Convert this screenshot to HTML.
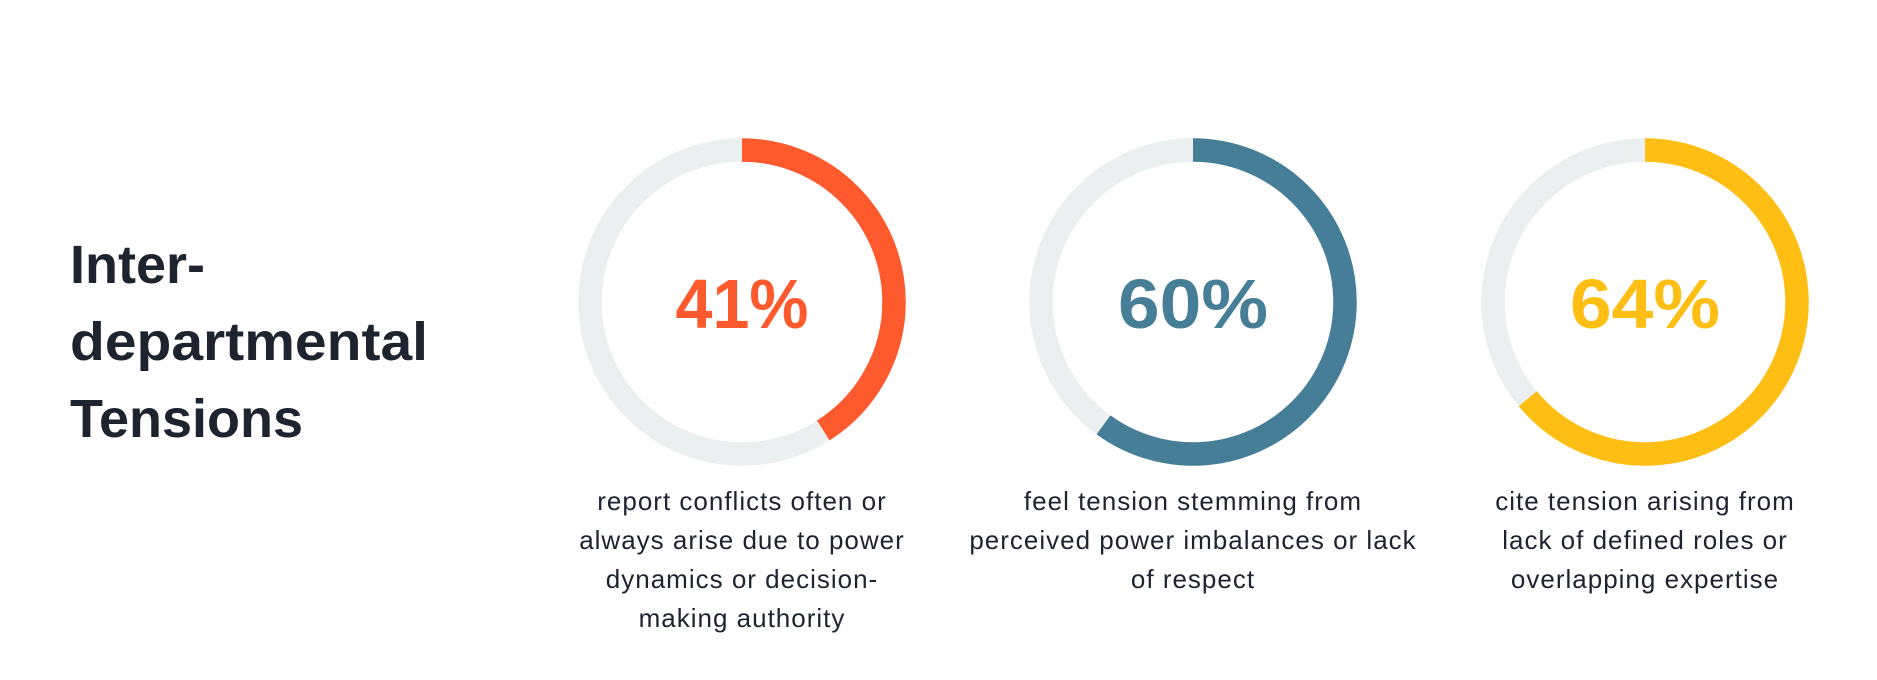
<!DOCTYPE html>
<html><head><meta charset="utf-8"><style>
html,body{margin:0;padding:0;background:#fff;width:1877px;height:680px;overflow:hidden}
svg{display:block}
</style></head><body>
<svg width="1877" height="680" viewBox="0 0 1877 680" xmlns="http://www.w3.org/2000/svg" font-family="Liberation Sans, sans-serif">
<g fill="#1e2330" font-weight="bold" font-size="54">
<text x="70" y="283">Inter-</text>
<text x="70" y="360" textLength="358" lengthAdjust="spacingAndGlyphs">departmental</text>
<text x="70" y="437">Tensions</text>
</g>
<g fill="none" stroke-width="23.5">
<circle cx="742" cy="302" r="152" stroke="#ECEFF0"/>
<circle cx="742" cy="302" r="152" stroke="#FF5A2E" stroke-dasharray="391.6 1000" transform="rotate(-90 742 302)"/>
<circle cx="1193" cy="302" r="152" stroke="#ECEFF0"/>
<circle cx="1193" cy="302" r="152" stroke="#467E98" stroke-dasharray="573 1000" transform="rotate(-90 1193 302)"/>
<circle cx="1645" cy="302" r="152" stroke="#ECEFF0"/>
<circle cx="1645" cy="302" r="152" stroke="#FFBE14" stroke-dasharray="611.2 1000" transform="rotate(-90 1645 302)"/>
</g>
<g font-weight="bold" font-size="70" text-anchor="middle">
<text x="742" y="328" fill="#FF5A2E" textLength="133" lengthAdjust="spacingAndGlyphs">41%</text>
<text x="1193" y="328" fill="#467E98" textLength="150" lengthAdjust="spacingAndGlyphs">60%</text>
<text x="1645" y="328" fill="#FFBE14" textLength="150" lengthAdjust="spacingAndGlyphs">64%</text>
</g>
<g fill="#1e2330" font-size="26" text-anchor="middle" letter-spacing="1">
<text x="742" y="510">report conflicts often or</text>
<text x="742" y="549">always arise due to power</text>
<text x="742" y="588">dynamics or decision-</text>
<text x="742" y="627">making authority</text>
<text x="1193" y="510">feel tension stemming from</text>
<text x="1193" y="549">perceived power imbalances or lack</text>
<text x="1193" y="588">of respect</text>
<text x="1645" y="510">cite tension arising from</text>
<text x="1645" y="549">lack of defined roles or</text>
<text x="1645" y="588">overlapping expertise</text>
</g>
</svg>
</body></html>
